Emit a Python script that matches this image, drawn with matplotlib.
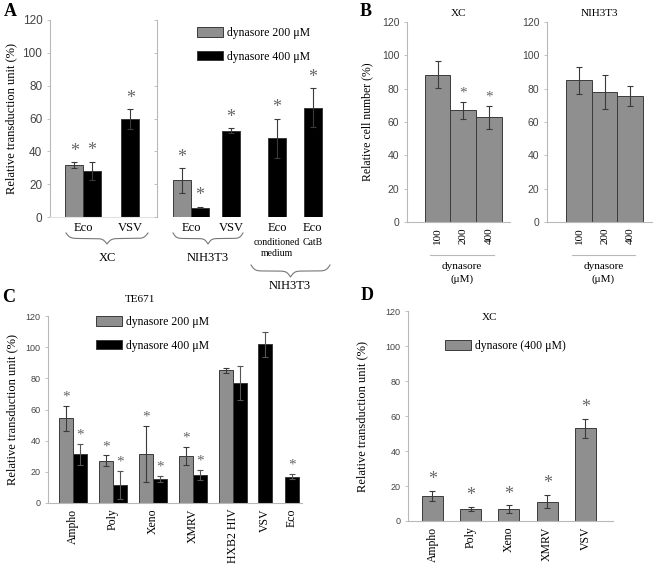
import numpy as np
import matplotlib
matplotlib.use("Agg")
import matplotlib.pyplot as plt
from matplotlib.lines import Line2D
from matplotlib.patches import Patch

# ---- data ----
# panel A
a_xc_cats = ["Eco", "VSV"]
a_xc_200 = [31.5, np.nan]
a_xc_200_err = [1.8, 0]
a_xc_400 = [28, 59.5]
a_xc_400_err = [5.7, 6]
a_nih_cats = ["Eco", "VSV", "Eco", "Eco"]
a_nih_200 = [22.3, np.nan, np.nan, np.nan]
a_nih_200_err = [7.4, 0, 0, 0]
a_nih_400 = [5.7, 52.6, 48, 66.6]
a_nih_400_err = [0.5, 1.4, 12, 12]

# panel B
b_doses = ["100", "200", "400"]
b_xc = [88.5, 67, 62.8]
b_xc_err = [8, 5, 7]
b_xc_star = [False, True, True]
b_nih = [85, 78, 75.8]
b_nih_err = [8.2, 10, 6]

# panel C (TE671)
c_cats = ["Ampho", "Poly", "Xeno", "XMRV", "HXB2 HIV", "VSV", "Eco"]
c_200 = [54.5, 27, 31.2, 30.2, 85.2, np.nan, np.nan]
c_200_err = [8, 3.5, 18, 6, 1.7, 0, 0]
c_200_star = [True, True, True, True, False, False, False]
c_400 = [31.2, 11.6, 15.2, 18, 77.2, 101.9, 16.9]
c_400_err = [6.7, 9, 2, 3, 11, 8, 1.7]
c_400_star = [True, True, True, True, False, False, True]

# panel D (XC)
d_cats = ["Ampho", "Poly", "Xeno", "XMRV", "VSV"]
d_400 = [14.2, 6.9, 6.9, 11.1, 53]
d_400_err = [3, 1.2, 2.1, 3.7, 5.5]

# ---- style ----
W, H = 661, 569
GRAY = "#8f8f8f"
EDGE = "#3a3a3a"
SPINE = "#b8b8b8"
TICKC = "#444444"
STARC = "#666666"
SERIF = "Liberation Serif"
SANS = "Liberation Sans"

fig = plt.figure(figsize=(W / 100, H / 100), dpi=100)


def px_axes(x0, ytop, x1, ybot):
    return fig.add_axes([x0 / W, 1 - ybot / H, (x1 - x0) / W, (ybot - ytop) / H])


def fx(x):
    return x / W


def fy(y):
    return 1 - y / H


def ftext(x, y, s, **kw):
    kw.setdefault("family", SERIF)
    kw.setdefault("ha", "center")
    kw.setdefault("va", "center")
    fig.text(fx(x), fy(y), s, **kw)


def style_axes(ax, ticksize, labels=True, bottom=SPINE):
    for s in ["top", "right"]:
        ax.spines[s].set_visible(False)
    ax.spines["left"].set_color(SPINE)
    ax.spines["bottom"].set_color(bottom)
    ax.set_ylim(0, 120)
    ax.set_yticks(range(0, 121, 20))
    ax.tick_params(axis="y", length=2.5, width=0.6, color=SPINE, labelcolor=TICKC,
                   labelsize=ticksize, pad=3, labelleft=labels)
    for t in ax.get_yticklabels():
        t.set_family(SANS)
    ax.tick_params(axis="x", length=0)
    ax.patch.set_alpha(0)


def bars(ax, x, vals, errs, color, width, ecol=EDGE, capsize=2):
    vals = np.asarray(vals, float)
    ax.bar(x, vals, width, color=color, edgecolor=EDGE, linewidth=0.7, zorder=2)
    ok = ~np.isnan(vals)
    ax.errorbar(np.asarray(x, float)[ok], vals[ok], yerr=np.asarray(errs)[ok], fmt="none",
                ecolor=ecol, elinewidth=0.8, capsize=capsize, capthick=0.8, zorder=3)


def stars(ax, x, vals, errs, flags, gap, size):
    for xi, v, e, f in zip(x, vals, errs, flags):
        if f and not np.isnan(v):
            ax.text(xi, v + e + gap, "*", ha="center", va="bottom", color=STARC,
                    family=SERIF, fontsize=size)


def brace(x0, x1, ytop, ybot, color="#777777"):
    xs = np.linspace(0, 1, 201)
    b = 40.0
    half = np.where(xs <= 0.5, xs, 1 - xs)
    yy = 1 / (1 + np.exp(-b * half)) + 1 / (1 + np.exp(-b * (half - 0.5)))
    yy = (yy - yy.min()) / (yy.max() - yy.min())
    px = x0 + xs * (x1 - x0)
    py = ytop + yy * (ybot - ytop)
    fig.add_artist(Line2D(fx(px), fy(py), color=color, lw=0.8))


# ================= Panel A =================
w = 0.375
axa1 = px_axes(50, 20, 157, 217)
xa1 = np.arange(len(a_xc_cats))
bars(axa1, xa1 - w / 2, a_xc_200, a_xc_200_err, GRAY, w)
bars(axa1, np.where(np.isnan(a_xc_200), xa1, xa1 + w / 2), a_xc_400, a_xc_400_err, "black", w)
style_axes(axa1, 8.5, bottom="#e2e2e2")
axa1.set_xlim(-0.70, 1.57)
axa1.set_xticks(xa1)
axa1.set_xticklabels(a_xc_cats, family=SERIF, fontsize=9)
stars(axa1, xa1 - w / 2, a_xc_200, a_xc_200_err, [True, False], 1.5, 13)
stars(axa1, np.where(np.isnan(a_xc_200), xa1, xa1 + w / 2), a_xc_400, a_xc_400_err,
      [True, True], 1.5, 13)
axa1.set_ylabel("Relative transduction unit (%)", family=SERIF, fontsize=9, labelpad=4)

axa2 = px_axes(157, 20, 335, 217)
pos_nih = [0, 1, 2.15, 3.04]
xa2 = np.array(pos_nih)
bars(axa2, xa2 - 0.225, a_nih_200, a_nih_200_err, GRAY, 0.45)
x400 = np.where(np.isnan(a_nih_200), xa2, xa2 + 0.225)
bars(axa2, x400, a_nih_400, a_nih_400_err, "black", 0.45)
style_axes(axa2, 8.5, labels=False, bottom="none")
axa2.set_xlim(-0.85, 3.6)
axa2.set_xticks(xa2)
axa2.set_xticklabels(a_nih_cats, family=SERIF, fontsize=9)
stars(axa2, xa2 - 0.225, a_nih_200, a_nih_200_err, [True, False, False, False], 1.5, 13)
stars(axa2, x400, a_nih_400, a_nih_400_err, [True, True, True, True], 1.5, 13)
axa2.text(xa2[2], -12.5, "conditioned\nmedium", transform=axa2.transData, ha="center",
          va="top", family=SERIF, fontsize=7, linespacing=1.3)
axa2.text(xa2[3], -12.5, "CatB", ha="center", va="top", family=SERIF, fontsize=7)
axa2.legend(handles=[Patch(facecolor=GRAY, edgecolor=EDGE, lw=0.7, label="dynasore 200 μM"),
                     Patch(facecolor="black", edgecolor=EDGE, lw=0.7, label="dynasore 400 μM")],
            loc="upper left", bbox_to_anchor=(fx(192), fy(22)), bbox_transform=fig.transFigure,
            frameon=False, prop={"family": SERIF, "size": 8.5}, handlelength=2.2,
            handleheight=0.9, labelspacing=1.0, handletextpad=0.4, borderaxespad=0)

brace(66, 148, 233, 244)
brace(173, 243, 233, 244)
brace(251, 330, 265, 277)
ftext(107, 258, "XC", fontsize=9)
ftext(208, 258, "NIH3T3", fontsize=9)
ftext(290, 286, "NIH3T3", fontsize=9)
ftext(10, 12, "A", fontsize=13, weight="bold")

# ================= Panel B =================
xb = np.arange(len(b_doses))
for (x0, x1, xl), vals, errs, flags, title, (lx0, lx1) in [
        ((407, 510, (-1.19, 2.82)), b_xc, b_xc_err, b_xc_star, "XC", (430, 494)),
        ((547, 652, (-1.25, 2.85)), b_nih, b_nih_err, [False] * 3, "NIH3T3", (572, 635))]:
    ax = px_axes(x0, 22, x1, 222)
    bars(ax, xb, vals, errs, GRAY, 1.0, capsize=2.5)
    style_axes(ax, 7.5)
    ax.set_xlim(*xl)
    ax.set_xticks(xb)
    ax.set_xticklabels(b_doses, family=SERIF, fontsize=8, rotation=90)
    ax.tick_params(axis="x", pad=4)
    stars(ax, xb, vals, errs, flags, 1.5, 11)
    ax.set_title(title, family=SERIF, fontsize=8, pad=4)
    fig.add_artist(Line2D([fx(lx0), fx(lx1)], [fy(255), fy(255)], color=SPINE, lw=0.8))
    ftext((lx0 + lx1) / 2, 273, "dynasore\n(μM)", fontsize=8, linespacing=1.4)
    if title == "XC":
        ax.set_ylabel("Relative cell number (%)", family=SERIF, fontsize=8.5, labelpad=6)
ftext(366, 12, "B", fontsize=13, weight="bold")

# ================= Panel C =================
axc = px_axes(48, 316, 302, 503)
pos_c = np.array([0, 1, 2, 3, 4, 4.8, 5.46])
wc = 0.35
xc200 = pos_c - wc / 2
xc400 = np.where(np.isnan(c_200), pos_c, pos_c + wc / 2)
bars(axc, xc200, c_200, c_200_err, GRAY, wc)
bars(axc, xc400, c_400, c_400_err, "black", wc, ecol="#555555")
style_axes(axc, 6.5)
axc.set_xlim(-0.625, 5.72)
axc.set_xticks(pos_c)
axc.set_xticklabels(c_cats, family=SERIF, fontsize=8.5, rotation=90)
axc.tick_params(axis="x", pad=4)
stars(axc, xc200, c_200, c_200_err, c_200_star, 1.5, 11)
stars(axc, xc400, c_400, c_400_err, c_400_star, 1.5, 11)
axc.set_ylabel("Relative transduction unit (%)", family=SERIF, fontsize=9, labelpad=5)
axc.legend(handles=[Patch(facecolor=GRAY, edgecolor=EDGE, lw=0.7, label="dynasore 200 μM"),
                    Patch(facecolor="black", edgecolor=EDGE, lw=0.7, label="dynasore 400 μM")],
           loc="upper left", bbox_to_anchor=(fx(91), fy(311)), bbox_transform=fig.transFigure,
           frameon=False, prop={"family": SERIF, "size": 8.5}, handlelength=2.2,
           handleheight=0.9, labelspacing=1.0, handletextpad=0.4, borderaxespad=0)
ftext(140, 299, "TE671", fontsize=8)
ftext(9, 298, "C", fontsize=13, weight="bold")

# ================= Panel D =================
axd = px_axes(408, 311, 613, 521)
xd = np.arange(len(d_cats))
bars(axd, xd, d_400, d_400_err, GRAY, 0.55)
style_axes(axd, 6.5)
axd.set_xlim(-0.64, 4.72)
axd.set_xticks(xd)
axd.set_xticklabels(d_cats, family=SERIF, fontsize=8.5, rotation=90)
axd.tick_params(axis="x", pad=4)
stars(axd, xd, d_400, d_400_err, [True] * 5, 1.5, 13)
axd.set_ylabel("Relative transduction unit (%)", family=SERIF, fontsize=9, labelpad=12)
axd.legend(handles=[Patch(facecolor=GRAY, edgecolor=EDGE, lw=0.7, label="dynasore (400 μM)")],
           loc="upper left", bbox_to_anchor=(fx(440), fy(335)), bbox_transform=fig.transFigure,
           frameon=False, prop={"family": SERIF, "size": 8.5}, handlelength=2.2,
           handleheight=0.9, handletextpad=0.4, borderaxespad=0)
ftext(489, 318, "XC", fontsize=8)
ftext(367, 296, "D", fontsize=13, weight="bold")

fig.savefig("out.png", dpi=100)
